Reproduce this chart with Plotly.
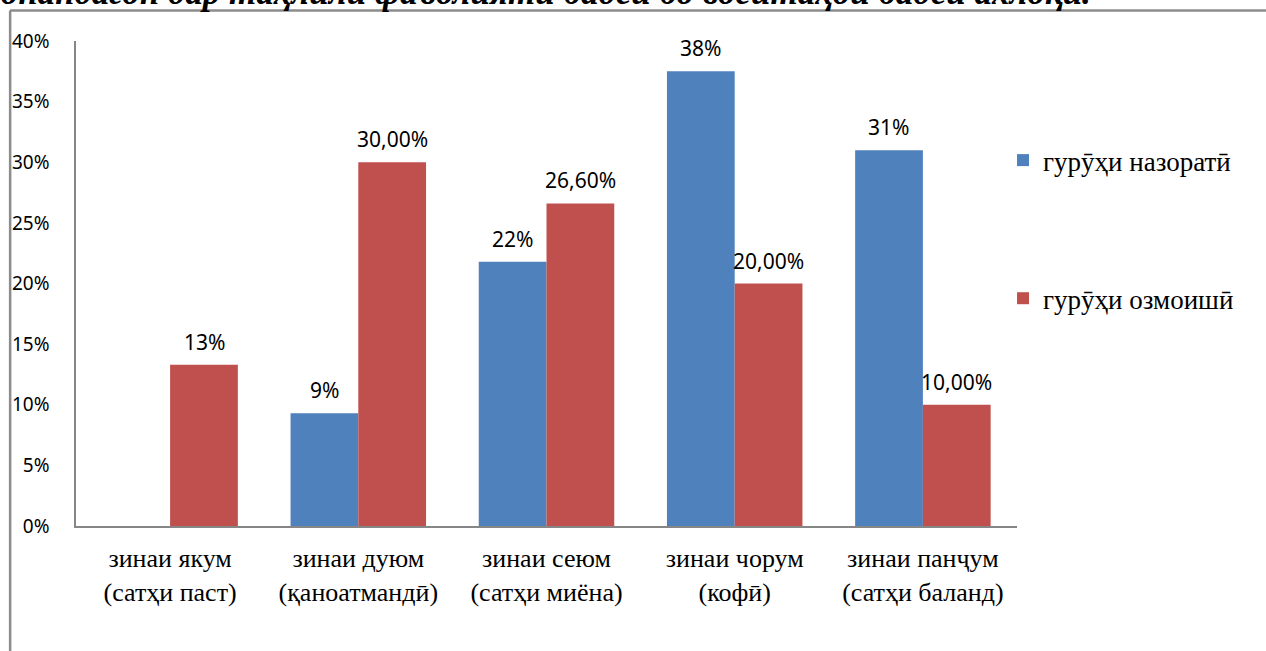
import plotly.graph_objects as go

categories = ["зинаи якум<br>(сатҳи паст)", "зинаи дуюм<br>(қаноатмандӣ)",
              "зинаи сеюм<br>(сатҳи миёна)", "зинаи чорум<br>(кофӣ)",
              "зинаи панҷум<br>(сатҳи баланд)"]
series_names = ["гурӯҳи назоратӣ", "гурӯҳи озмоишӣ"]
control_values = [0, 9.3, 21.8, 37.5, 31.0]
experiment_values = [13.3, 30.0, 26.6, 20.0, 10.0]
control_labels = ["", "9%", "22%", "38%", "31%"]
experiment_labels = ["13%", "30,00%", "26,60%", "20,00%", "10,00%"]
y_ticks = [0, 5, 10, 15, 20, 25, 30, 35, 40]
y_tick_labels = ["0%", "5%", "10%", "15%", "20%", "25%", "30%", "35%", "40%"]
title_text = "Хонандагон дар таҳлили фаъолияти бадеӣ бо воситаҳои бадеи ахлоқӣ."

BLUE = "#4F81BD"
RED = "#C0504D"
AXIS = "#868686"

# plot area in pixels (for converting outside decorations to paper coords)
PL, PR, PT, PB = 74, 1017, 41, 525.7
PW, PH = PR - PL, PB - PT


def px_x(p):
    return (p - PL) / PW


def px_y(p):
    return (PB - p) / PH


fig = go.Figure()
fig.add_trace(go.Bar(x=categories, y=control_values, name=series_names[0],
                     marker=dict(color=BLUE, line=dict(width=0)),
                     legendgroup="a"))
fig.add_trace(go.Bar(x=categories, y=experiment_values, name=series_names[1],
                     marker=dict(color=RED, line=dict(width=0)),
                     legendgroup="b"))

# data labels
label_font = dict(family="Noto Sans", size=21, color="#000000")
for cat, v, t in zip(categories, control_values, control_labels):
    if t:
        fig.add_annotation(x=cat, y=v, text=t, showarrow=False, xshift=-34,
                           yanchor="bottom", yshift=7, font=label_font)
for cat, v, t in zip(categories, experiment_values, experiment_labels):
    if t:
        fig.add_annotation(x=cat, y=v, text=t, showarrow=False, xshift=34,
                           yanchor="bottom", yshift=7, font=label_font)

# cropped title at top
fig.add_annotation(xref="paper", yref="paper", x=px_x(1093), y=px_y(14),
                   xanchor="right", yanchor="bottom", showarrow=False,
                   text="<b><i>" + title_text + "</i></b>",
                   font=dict(family="Liberation Serif", size=35, color="#000000"))

# outer frame lines
fig.add_shape(type="line", xref="paper", yref="paper",
              x0=px_x(8), x1=px_x(1300), y0=px_y(10.5), y1=px_y(10.5),
              line=dict(color="#8c8c8c", width=2.5))
fig.add_shape(type="line", xref="paper", yref="paper",
              x0=px_x(8), x1=px_x(8), y0=px_y(10.5), y1=px_y(700),
              line=dict(color="#8c8c8c", width=2.5))

fig.update_layout(
    width=1266, height=651,
    margin=dict(l=PL, r=1266 - PR, t=PT, b=651 - PB),
    paper_bgcolor="white", plot_bgcolor="white",
    barmode="group", bargap=0.28, bargroupgap=0,
    showlegend=True,
    legend=dict(x=px_x(1003), y=px_y(136), xanchor="left", yanchor="top",
                font=dict(family="Liberation Serif", size=27, color="#000000"),
                tracegroupgap=100, bgcolor="rgba(0,0,0,0)"),
    xaxis=dict(showline=True, linecolor=AXIS, linewidth=1.5, showgrid=False,
               tickfont=dict(family="Liberation Serif", size=26, color="#000000"),
               ticks="", ticklabelstandoff=8, fixedrange=True),
    yaxis=dict(range=[0, 40], tickvals=y_ticks, ticktext=y_tick_labels,
               showline=True, linecolor=AXIS, linewidth=1.5, showgrid=False, zeroline=False,
               tickfont=dict(family="Noto Sans", size=19, color="#000000"),
               ticks="", ticklabelstandoff=21, fixedrange=True),
)

fig.write_html("out.html", config={"displayModeBar": False},
               post_script="document.body.style.margin='0';document.body.style.overflow='hidden';")
